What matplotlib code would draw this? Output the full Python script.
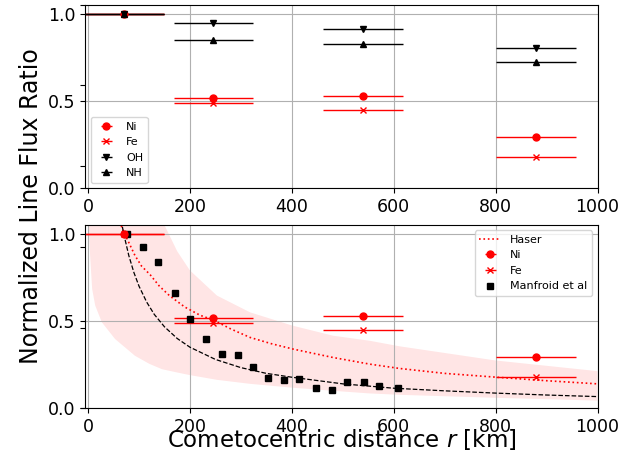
import matplotlib
matplotlib.use('Agg')
import matplotlib.pyplot as plt
import numpy as np

# binned line ratios (centre of bin, half width)
r_bins = [71, 246, 540, 879]
r_halfwidth = [78, 78, 78, 79]
ni = [1.0, 0.52, 0.527, 0.293]
fe = [1.0, 0.49, 0.45, 0.18]
oh = [1.0, 0.95, 0.912, 0.803]
nh = [1.0, 0.85, 0.828, 0.722]

# Manfroid et al profile
manf_r = [77, 108, 138, 170, 201, 231, 262, 294, 323, 353, 385, 415, 447, 479, 509, 542, 571, 608]
manf_y = [1.0, 0.927, 0.839, 0.661, 0.511, 0.397, 0.309, 0.307, 0.236, 0.175, 0.161, 0.169,
          0.117, 0.106, 0.148, 0.152, 0.125, 0.117]

# Haser model curve
haser_r = [62, 70, 80, 92, 105, 122, 140, 160, 190, 220, 246, 280, 318, 360, 403, 450, 481,
           553, 612, 700, 802, 900, 1000]
haser_y = [1.07, 1.01, 0.95, 0.876, 0.815, 0.765, 0.70, 0.645, 0.58, 0.533, 0.506, 0.455,
           0.406, 0.37, 0.339, 0.31, 0.291, 0.253, 0.228, 0.2, 0.178, 0.158, 0.14]

# 1/r like fit through Manfroid points
fit_r = [65, 70, 80, 90, 100, 115, 130, 150, 175, 200, 250, 300, 350, 400, 500, 600, 700,
         800, 900, 1000]
fit_y = [1.077, 1.0, 0.875, 0.778, 0.70, 0.609, 0.538, 0.467, 0.40, 0.35, 0.28, 0.233, 0.2,
         0.178, 0.14, 0.115, 0.1, 0.087, 0.076, 0.067]

# shaded model range
band_r = [0, 2, 4, 8, 14, 27, 53, 92, 120, 145, 175, 200, 253, 318, 401, 481, 553, 612,
          800, 1000]
band_lo = [1.1, 1.0, 0.876, 0.684, 0.589, 0.493, 0.397, 0.301, 0.255, 0.224, 0.205, 0.19,
           0.163, 0.14, 0.118, 0.1, 0.085, 0.077, 0.06, 0.044]
band_hi = [5.0, 4.8, 4.5, 4.0, 3.6, 3.0, 2.2, 1.62, 1.3, 1.08, 0.9, 0.79, 0.646, 0.55,
           0.474, 0.416, 0.387, 0.355, 0.274, 0.213]

fig = plt.figure(figsize=(6.42, 4.54), dpi=100)
L, R = 0.1324, 0.9307
ax1 = fig.add_axes([L, 0.5852, R - L, 0.9896 - 0.5852])
ax2 = fig.add_axes([L, 0.1007, R - L, 0.505 - 0.1007])

# big frameless axes for the common labels
big = fig.add_axes([L, 0.1007, R - L, 0.9896 - 0.1007], frameon=False, zorder=-1)
big.tick_params(bottom=False, top=False, right=False)
big.set_xticks([])
big.set_yticks([0, 0.2, 0.4, 0.6, 0.8, 1.0])
big.set_yticklabels([])
big.set_ylabel('Normalized Line Flux Ratio', fontsize=17)
big.set_xlabel('Cometocentric distance $r$ [km]', fontsize=16.5)
big.yaxis.set_label_coords(-0.082, 0.5)
big.xaxis.set_label_coords(0.5, -0.046)

ms = 5
ax1.errorbar(r_bins, ni, xerr=r_halfwidth, fmt='o', color='red', ms=ms, lw=1, label='Ni')
ax1.errorbar(r_bins, fe, xerr=r_halfwidth, fmt='x', color='red', ms=ms, lw=1, label='Fe')
ax1.errorbar(r_bins, oh, xerr=r_halfwidth, fmt='v', color='black', ms=ms, lw=1, label='OH')
ax1.errorbar(r_bins, nh, xerr=r_halfwidth, fmt='^', color='black', ms=ms, lw=1, label='NH')
ax1.legend(loc='lower left', fontsize=8)

ax2.fill_between(band_r, band_lo, band_hi, color='red', alpha=0.1, lw=0)
h_haser, = ax2.plot(haser_r, haser_y, ':', color='red', lw=1.2, label='Haser')
h_ni = ax2.errorbar(r_bins, ni, xerr=r_halfwidth, fmt='o', color='red', ms=ms, lw=1, label='Ni')
h_fe = ax2.errorbar(r_bins, fe, xerr=r_halfwidth, fmt='x', color='red', ms=ms, lw=1, label='Fe')
h_manf, = ax2.plot(manf_r, manf_y, 's', color='black', ms=ms, label='Manfroid et al')
ax2.plot(fit_r, fit_y, '--', color='black', lw=0.9)
ax2.legend(handles=[h_haser, h_ni, h_fe, h_manf], loc='upper right', fontsize=8)

for ax in (ax1, ax2):
    ax.set_xlim(-6, 1000)
    ax.set_ylim(0, 1.052)
    ax.set_yticks([0, 0.5, 1.0])
    ax.set_xticks([0, 200, 400, 600, 800, 1000])
    ax.tick_params(labelsize=12.5)
    ax.grid(True)

plt.savefig('out.png')
